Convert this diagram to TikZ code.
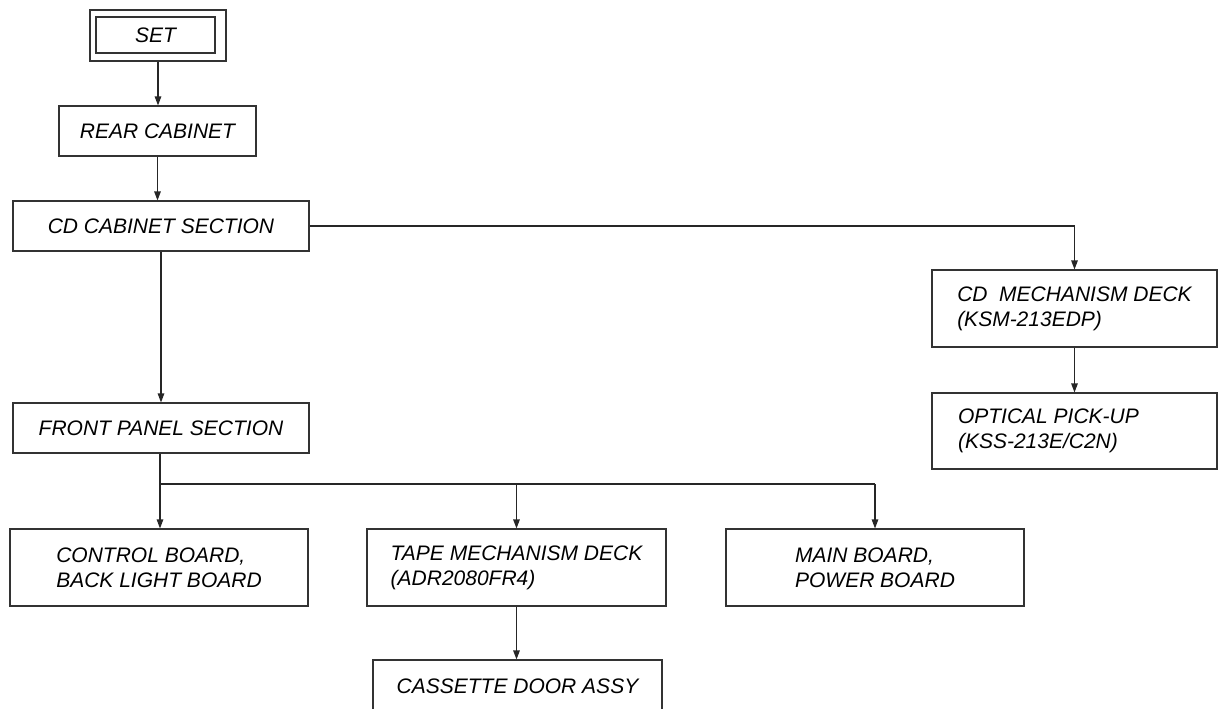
\documentclass[tikz,border=0pt]{standalone}
\usepackage{fontspec}
\setmainfont{Liberation Sans}
\usetikzlibrary{arrows.meta}
\tikzset{
  box/.style={draw=black!80, line width=1.1pt, rectangle, inner sep=0pt,
    font=\fontsize{21}{25}\selectfont\itshape, align=left, text=black},
  arr/.style={line width=1.1pt, draw=black!85, -{Triangle[length=9pt,width=6.5pt]}},
  ln/.style={line width=1.1pt, draw=black!85}
}
\newcommand{\boxat}[7][]{% opts, name, x1, y1, x2, y2, text
  \node[box, minimum width=#5-#3, minimum height=#6-#4, #1] (#2) at ({(#3+#5)/2},{(#4+#6)/2}) {#7};}
\begin{document}
\begin{tikzpicture}[x=1pt,y=-1pt]
\clip (0,0) rectangle (1218,709);
\fill[white] (0,0) rectangle (1218,709);
% SET double box
\node[draw=black!80, line width=1.1pt, rectangle, minimum width=136pt, minimum height=51pt] (setouter) at (158,35.5) {};
\node[box, minimum width=119pt, minimum height=36pt] (set) at (155.5,35) {SET};
\boxat{rear}{59}{106}{256}{156}{REAR CABINET}
\boxat{cdcab}{13}{201}{309}{251}{CD CABINET SECTION}
\boxat{front}{13}{403}{309}{453}{FRONT PANEL SECTION}
\boxat{control}{10}{529}{308}{606}{CONTROL BOARD,\\BACK LIGHT BOARD}
\boxat{tape}{367}{529}{666}{606}{TAPE MECHANISM DECK\\(ADR2080FR4)}
\boxat{main}{726}{529}{1024}{606}{MAIN BOARD,\\POWER BOARD}
\boxat{cass}{373}{660}{662}{712}{CASSETTE DOOR ASSY}
\boxat{cdmech}{932}{270}{1217}{347}{CD\ \ MECHANISM DECK\\(KSM-213EDP)}
\boxat{optical}{932}{393}{1217}{469}{\makebox[233pt][l]{OPTICAL PICK-UP}\\(KSS-213E/C2N)}
% connectors
\draw[arr] (setouter.south) -- (setouter.south |- rear.north);
\draw[arr] (rear.south) -- (rear.south |- cdcab.north);
\draw[arr] (cdcab.south) -- (cdcab.south |- front.north);
\draw[arr] (cdcab.east) -| (cdmech.north);
\draw[arr] (cdmech.south) -- (optical.north);
\coordinate (j) at (160,484);
\draw[arr] (front.south -| j) -- (j |- control.north);
\draw[ln] (j) -- (j -| main.north);
\draw[arr] (j -| main.north) -- (main.north);
\draw[arr] (j -| tape.north) -- (tape.north);
\draw[arr] (tape.south) -- (tape.south |- cass.north);
\end{tikzpicture}
\end{document}
